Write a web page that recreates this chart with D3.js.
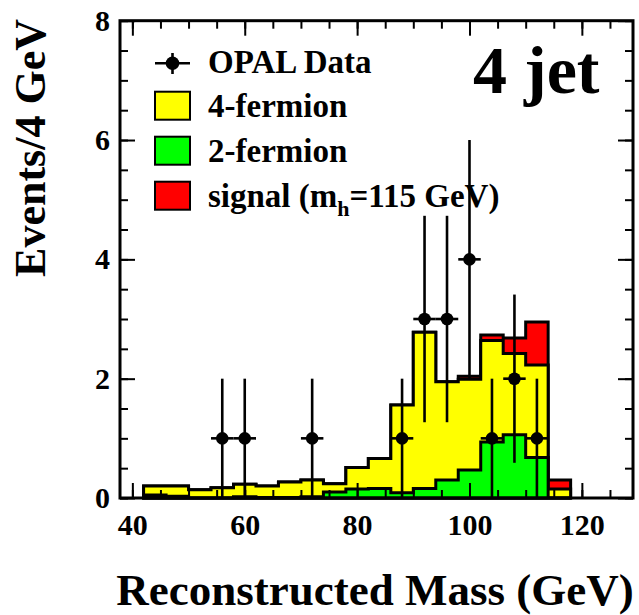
<!DOCTYPE html>
<html>
<head>
<meta charset="utf-8">
<script src="https://cdn.jsdelivr.net/npm/d3@7"></script>
<style>
body { margin: 0; background: #fff; }
text { font-family: "Liberation Serif", "Times New Roman", serif; font-weight: bold; }
</style>
</head>
<body>
<svg width="639" height="615"></svg>
<script>
// bin edges in GeV (4 GeV bins), last entry is the upper edge of the last bin
var binEdges = [42, 46, 50, 54, 58, 62, 66, 70, 74, 78, 82, 86, 90, 94, 98, 102, 106, 110, 114, 118];
var twoFermion = [0.05, 0.03, 0, 0, 0.02, 0.01, 0.01, 0.02, 0.10, 0.15, 0.16, 0.09, 0.16, 0.30, 0.47, 0.94, 1.06, 0.68, 0];
var fourFermion = [0.15, 0.17, 0.14, 0.17, 0.21, 0.19, 0.26, 0.28, 0.14, 0.36, 0.50, 1.47, 2.62, 1.65, 1.52, 1.70, 1.36, 1.55, 0.15];
var signal = [0, 0, 0, 0, 0, 0, 0, 0, 0, 0, 0, 0, 0, 0, 0.05, 0.09, 0.26, 0.72, 0.15];
var dataCounts = [0, 0, 0, 1, 1, 0, 0, 1, 0, 0, 0, 1, 3, 3, 4, 1, 2, 1, 0];
var dataErrors = [0, 0, 0, 1, 1, 0, 0, 1, 0, 0, 0, 1, 1.73, 1.73, 2, 1, 1.41, 1, 0];
var xTicks = [40, 60, 80, 100, 120];
var yTicks = [0, 2, 4, 6, 8];
var legendNames = ["OPAL Data", "4-fermion", "2-fermion", "signal (m"];
var legendColors = ["#ffff00", "#00ff00", "#ff0000"];

var svg = d3.select("svg");
var plotLeft = 120, plotRight = 633, plotTop = 20.7, plotBottom = 498;

var x = d3.scaleLinear().domain([37.8, 129.1]).range([plotLeft, plotRight]);
var y = d3.scaleLinear().domain([0, 8]).range([plotBottom, plotTop]);

var rows = binEdges.slice(0, -1).map(function(e, i) {
    return {lo: e, hi: binEdges[i + 1], twoF: twoFermion[i], fourF: fourFermion[i], sig: signal[i]};
});
var stack = d3.stack().keys(["twoF", "fourF", "sig"])(rows);

function stepPoints(layer) {
    var pts = [[rows[0].lo, 0]];
    layer.forEach(function(d) {
        pts.push([d.data.lo, d[1]]);
    });
    var last = layer[layer.length - 1];
    pts.push([last.data.hi, last[1]]);
    pts.push([last.data.hi, 0]);
    return pts;
}

var step = d3.line()
    .x(function(d) { return x(d[0]); })
    .y(function(d) { return y(d[1]); })
    .curve(d3.curveStepAfter);

// draw from the top of the stack down so lower pieces cover upper ones
var fills = ["#00ff00", "#ffff00", "#ff0000"];
[2, 1, 0].forEach(function(k) {
    svg.append("path")
        .attr("d", step(stepPoints(stack[k])) + "Z")
        .attr("fill", fills[k])
        .attr("stroke", "#000")
        .attr("stroke-width", 3)
        .attr("stroke-linejoin", "miter");
});

// data points
var pts = rows.map(function(r, i) {
    return {x: (r.lo + r.hi) / 2, lo: r.lo, hi: r.hi, n: dataCounts[i], e: dataErrors[i]};
}).filter(function(d) { return d.n > 0; });

var pg = svg.append("g");
pg.selectAll("line.v").data(pts).enter().append("line")
    .attr("x1", function(d) { return x(d.x); })
    .attr("x2", function(d) { return x(d.x); })
    .attr("y1", function(d) { return y(d.n - d.e); })
    .attr("y2", function(d) { return y(d.n + d.e); })
    .attr("stroke", "#000").attr("stroke-width", 2.6);
pg.selectAll("line.h").data(pts).enter().append("line")
    .attr("x1", function(d) { return x(d.lo); })
    .attr("x2", function(d) { return x(d.hi); })
    .attr("y1", function(d) { return y(d.n); })
    .attr("y2", function(d) { return y(d.n); })
    .attr("stroke", "#000").attr("stroke-width", 2.6);
pg.selectAll("circle").data(pts).enter().append("circle")
    .attr("cx", function(d) { return x(d.x); })
    .attr("cy", function(d) { return y(d.n); })
    .attr("r", 6.3)
    .attr("fill", "#000");

// axes, ticks pointing inwards
function styleAxis(g) {
    g.select(".domain").remove();
    g.selectAll(".tick line").attr("stroke", "#000").attr("stroke-width", 2);
    g.selectAll("text")
        .attr("fill", "#000")
        .attr("font-size", 30)
        .attr("font-family", "Liberation Serif")
        .attr("font-weight", "bold");
}

var xMinor = d3.range(40, 130, 5);
var yMinor = d3.range(0, 8.01, 0.5);

svg.append("g").attr("transform", "translate(0," + plotBottom + ")")
    .call(d3.axisBottom(x).tickValues(xMinor).tickSize(-8).tickFormat(""))
    .call(styleAxis);
svg.append("g").attr("transform", "translate(0," + plotBottom + ")")
    .call(d3.axisBottom(x).tickValues(xTicks).tickSize(-15).tickPadding(16))
    .call(styleAxis);
svg.append("g").attr("transform", "translate(0," + plotTop + ")")
    .call(d3.axisTop(x).tickValues(xMinor).tickSize(-8).tickFormat(""))
    .call(styleAxis);
svg.append("g").attr("transform", "translate(0," + plotTop + ")")
    .call(d3.axisTop(x).tickValues(xTicks).tickSize(-15).tickFormat(""))
    .call(styleAxis);

svg.append("g").attr("transform", "translate(" + plotLeft + ",0)")
    .call(d3.axisLeft(y).tickValues(yMinor).tickSize(-8).tickFormat(""))
    .call(styleAxis);
svg.append("g").attr("transform", "translate(" + plotLeft + ",0)")
    .call(d3.axisLeft(y).tickValues(yTicks).tickSize(-15).tickPadding(10))
    .call(styleAxis);
svg.append("g").attr("transform", "translate(" + plotRight + ",0)")
    .call(d3.axisRight(y).tickValues(yMinor).tickSize(-8).tickFormat(""))
    .call(styleAxis);
svg.append("g").attr("transform", "translate(" + plotRight + ",0)")
    .call(d3.axisRight(y).tickValues(yTicks).tickSize(-15).tickFormat(""))
    .call(styleAxis);

// frame
svg.append("rect")
    .attr("x", plotLeft).attr("y", plotTop)
    .attr("width", plotRight - plotLeft).attr("height", plotBottom - plotTop)
    .attr("fill", "none").attr("stroke", "#000").attr("stroke-width", 3);

// axis titles
svg.append("text")
    .attr("x", 375).attr("y", 605)
    .attr("text-anchor", "middle")
    .attr("font-size", 45)
    .text("Reconstructed Mass (GeV)");

svg.append("text")
    .attr("transform", "translate(45,148) rotate(-90)")
    .attr("text-anchor", "middle")
    .attr("font-size", 44)
    .text("Events/4 GeV");

svg.append("text")
    .attr("x", 473).attr("y", 93)
    .attr("font-size", 68)
    .text("4 jet");

// legend
var lg = svg.append("g");
lg.append("line").attr("x1", 155).attr("x2", 190).attr("y1", 63.3).attr("y2", 63.3)
    .attr("stroke", "#000").attr("stroke-width", 2.6);
lg.append("line").attr("x1", 172.5).attr("x2", 172.5).attr("y1", 53).attr("y2", 74)
    .attr("stroke", "#000").attr("stroke-width", 2.6);
lg.append("circle").attr("cx", 172.5).attr("cy", 63.3).attr("r", 6.8).attr("fill", "#000");
lg.append("text").attr("x", 208).attr("y", 73).attr("font-size", 33).text(legendNames[0]);

legendColors.forEach(function(c, i) {
    var yy = 91.7 + i * 45;
    lg.append("rect").attr("x", 155).attr("y", yy).attr("width", 35).attr("height", 28)
        .attr("fill", c).attr("stroke", "#000").attr("stroke-width", 2);
    var t = lg.append("text").attr("x", 208).attr("y", yy + 25).attr("font-size", 33);
    t.append("tspan").text(legendNames[i + 1]);
    if (i === 2) {
        t.append("tspan").attr("font-size", 22).attr("dy", 9).text("h");
        t.append("tspan").attr("dy", -9).text("=115 GeV)");
    }
});
</script>
</body>
</html>
